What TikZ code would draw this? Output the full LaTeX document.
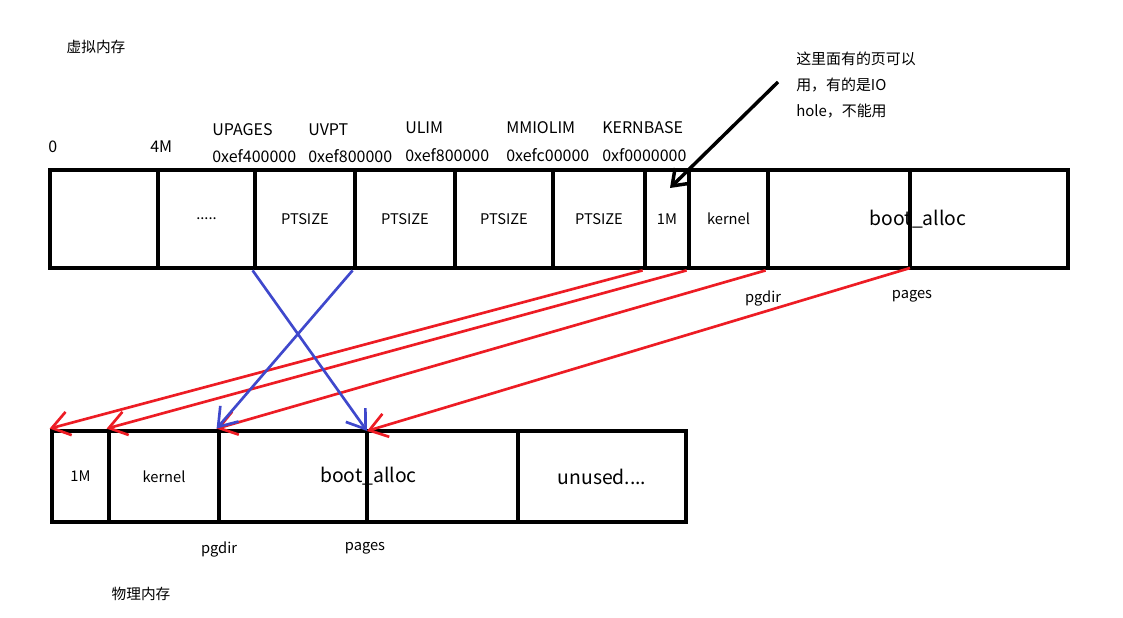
\documentclass[tikz,border=0pt]{standalone}
\usepackage{fontspec}
\setmainfont{Noto Sans CJK SC}
\usetikzlibrary{arrows.meta,positioning}
\definecolor{mapred}{RGB}{237,28,36}
\definecolor{mapblue}{RGB}{63,72,204}
\tikzset{
  % 内存格子
  cell/.style={
    draw=black,
    line width=3.6pt,
    inner sep=0pt,
    font=\fontsize{11}{13}\selectfont
  },
  % 虚拟内存一行 / 物理内存一行
  vrow/.style={cell, minimum height=73.5pt},
  prow/.style={cell, minimum height=68.25pt},
  % 大字
  big/.style={font=\fontsize{14.5}{16}\selectfont},
  % 中间的分隔线
  wall/.style={line width=3.6pt, line cap=rect},
  % 普通文字
  lab/.style={font=\fontsize{11}{13}\selectfont, inner sep=0pt},
  addr/.style={lab, anchor=west, font=\fontsize{12}{14}\selectfont},
  % 箭头样式
  redarr/.style={-{Straight Barb[length=13pt,width=18pt]}, line width=2pt, mapred},
  bluearr/.style={-{Straight Barb[length=13pt,width=18pt]}, line width=2pt, mapblue},
  notearr/.style={-{Straight Barb[length=11pt,width=16pt]}, line width=2.6pt, black},
}
\begin{document}
\begin{tikzpicture}[x=0.75pt, y=-0.75pt]
  \useasboundingbox (0,0) rectangle (1123,617);

  % 虚拟内存
  \node[lab] (vtitle) at (96,47) {虚拟内存};
  \node[addr] (a0) at (48,147) {0};
  \node[addr] (a4m) at (150,147) {4M};
  \node[addr] (nupages) at (212,130) {UPAGES};
  \node[addr] (aupages) at (212,156) {0xef400000};
  \node[addr] (nuvpt) at (308,130) {UVPT};
  \node[addr] (auvpt) at (308,156) {0xef800000};
  \node[addr] (nulim) at (405,128) {ULIM};
  \node[addr] (aulim) at (405,155) {0xef800000};
  \node[addr] (nmmio) at (506,128) {MMIOLIM};
  \node[addr] (ammio) at (506,155) {0xefc00000};
  \node[addr] (nkbase) at (602,128) {KERNBASE};
  \node[addr] (akbase) at (602,155) {0xf0000000};

  \node[vrow, minimum width=81pt] (v0) at (104,219) {};
  \node[vrow, minimum width=72.75pt] (v4m) at (206.5,219) {.....};
  \node[vrow, minimum width=75pt] (vupages) at (305,219) {PTSIZE};
  \node[vrow, minimum width=75pt] (vuvpt) at (405,219) {PTSIZE};
  \node[vrow, minimum width=73.5pt] (vulim) at (504,219) {PTSIZE};
  \node[vrow, minimum width=69pt] (vmmio) at (599,219) {PTSIZE};
  \node[vrow, minimum width=33pt] (v1m) at (667,219) {1M};
  \node[vrow, minimum width=59.25pt] (vkern) at (728.5,219) {kernel};
  \node[vrow, big, minimum width=225pt] (vboot) at (918,219) {boot\_alloc};
  \coordinate (vpgtop) at (910,170);
  \coordinate (vpg) at (910,268);
  \draw[wall] (vpgtop) -- (vpg);
  \node[lab] (vpgdir) at (763,298) {pgdir};
  \node[lab] (vpages) at (912,296) {pages};

  % 说明
  \node[lab, anchor=north west, align=left, font=\fontsize{11.2}{19.5}\selectfont] (note)
    at (796,52) {这里面有的页可以\\用，有的是IO\\hole，不能用};
  \coordinate (notestart) at (778,82);
  \coordinate (hole) at (670,188);
  \draw[notearr] (notestart) -- (hole);

  % 物理内存
  \node[prow, minimum width=42.75pt] (p1m) at (80.5,476.5) {1M};
  \node[prow, minimum width=82.5pt] (pkern) at (164,476.5) {kernel};
  \node[prow, big, minimum width=224.25pt] (pboot) at (368.5,476.5) {boot\_alloc};
  \node[prow, big, minimum width=126pt] (punused) at (602,476.5) {unused....};
  \coordinate (ppg) at (367,431);
  \coordinate (ppgbot) at (367,522);
  \draw[wall] (ppg) -- (ppgbot);
  \node[lab] (ppgdir) at (219,549) {pgdir};
  \node[lab] (ppages) at (365,548) {pages};
  \node[lab] (ptitle) at (141,594) {物理内存};

  % 映射
  \draw[redarr] (v1m.south west) -- (p1m.north west);
  \draw[redarr] (vkern.south west) -- (pkern.north west);
  \draw[redarr] (vboot.south west) -- (pboot.north west);
  \draw[redarr] (vpg) -- (ppg);
  \draw[bluearr] (vupages.south west) -- (ppg);
  \draw[bluearr] (vuvpt.south west) -- (pboot.north west);
\end{tikzpicture}
\end{document}
